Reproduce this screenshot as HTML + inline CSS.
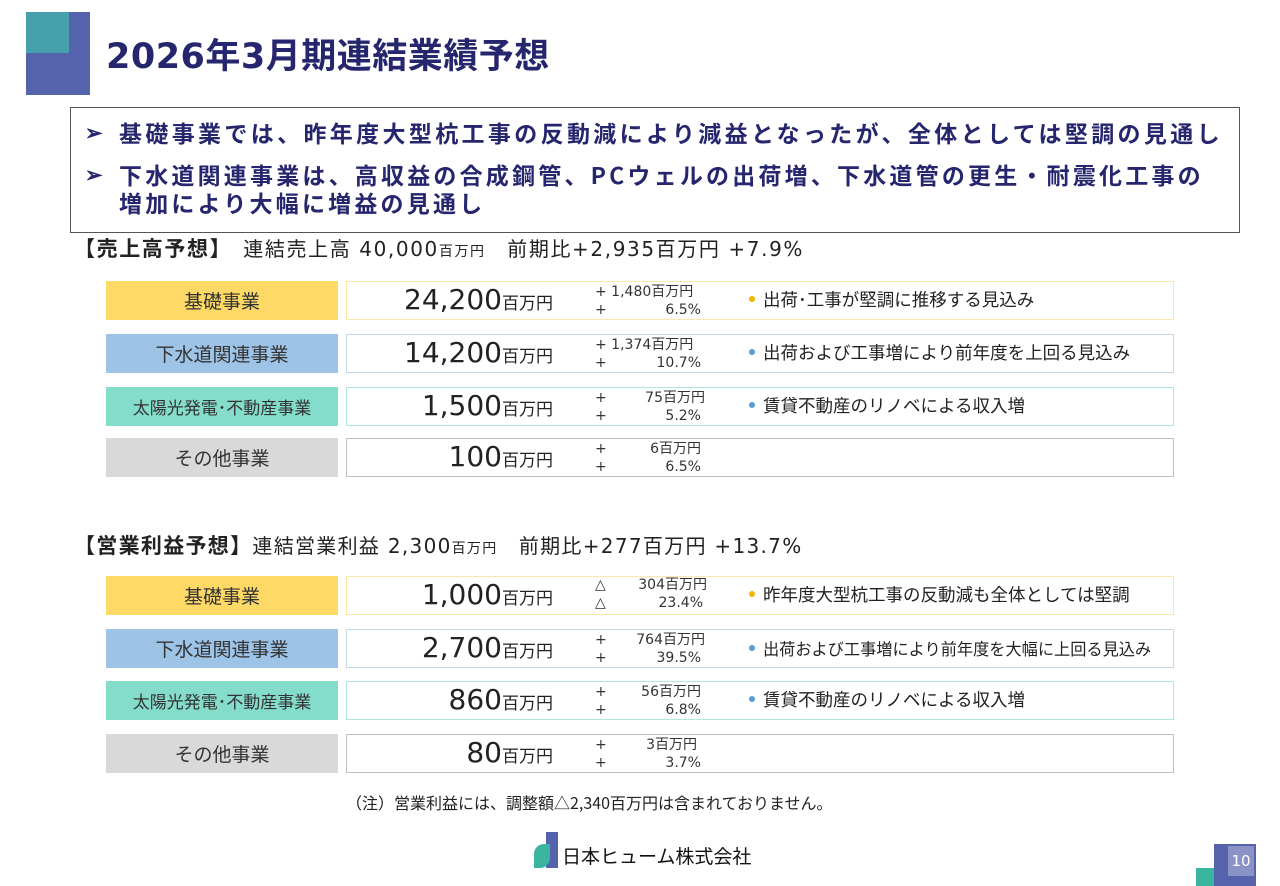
<!DOCTYPE html>
<html><head><meta charset="utf-8">
<style>
body{margin:0;width:1280px;height:886px;background:#fff;position:relative;overflow:hidden;font-family:"DejaVu Sans","Noto Sans CJK JP",sans-serif;color:#333;}
.a{position:absolute;}
.lab{position:absolute;left:106px;width:232px;height:39px;display:flex;align-items:center;justify-content:center;font-size:19px;color:#333;font-family:"Noto Sans CJK JP",sans-serif;}
.val{position:absolute;left:346px;width:826px;height:37px;background:#fff;}
.num{position:absolute;right:620px;top:3px;font-size:28px;line-height:30px;color:#222;white-space:nowrap;}
.num small{font-size:17px;font-family:"Noto Sans CJK JP",sans-serif;}
.ch{position:absolute;left:248px;width:110px;font-size:14px;line-height:18px;color:#333;white-space:nowrap;}
.ch span{position:absolute;left:0;}
.ch b{font-weight:normal;position:absolute;right:0;}
.note{position:absolute;left:402px;top:6px;font-size:17.5px;line-height:24px;white-space:nowrap;color:#222;font-family:"Noto Sans CJK JP",sans-serif;}
.note i{display:inline-block;width:6px;height:6px;border-radius:3px;margin-right:8px;vertical-align:4px;}
</style></head><body>
<div class="a" style="left:26px;top:12px;width:64px;height:83px;background:#5563ad;"></div>
<div class="a" style="left:26px;top:12px;width:43px;height:41px;background:#47a1ad;"></div>
<div class="a" style="left:106px;top:34px;font-size:35px;font-weight:bold;color:#26266e;line-height:46px;letter-spacing:0.5px;white-space:nowrap;">2026年3月期連結業績予想</div>

<div class="a" style="left:70px;top:107px;width:1168px;height:124px;border:1px solid #555;color:#26266e;font-weight:bold;font-size:23px;line-height:28px;font-family:'Noto Sans CJK JP',sans-serif;">
<div class="a" style="left:14px;top:10px;font-size:21px;">➢</div><div class="a" style="left:48px;top:10px;white-space:nowrap;letter-spacing:3.35px;">基礎事業では、昨年度大型杭工事の反動減により減益となったが、全体としては堅調の見通し</div>
<div class="a" style="left:14px;top:52px;font-size:21px;">➢</div><div class="a" style="left:48px;top:52px;white-space:nowrap;letter-spacing:3.2px;">下水道関連事業は、高収益の合成鋼管、PCウェルの出荷増、下水道管の更生・耐震化工事の<br>増加により大幅に増益の見通し</div>
</div>

<div class="a" style="left:74px;top:234px;font-size:20px;line-height:28px;white-space:nowrap;color:#222;letter-spacing:1.6px;"><b style="font-size:21px;font-family:'Noto Sans CJK JP'">【売上高予想】</b>　連結売上高 40,000<small style="font-size:14px">百万円</small>　前期比+2,935百万円 +7.9%</div>

<div class="lab" style="top:281px;background:#ffd966;">基礎事業</div>
<div class="val" style="top:281px;border:1px solid #ffe7a6;"><div class="num">24,200<small>百万円</small></div><div class="ch" style="top:1px">+ 1,480百万円<br><span>+</span><b style="right:4px">6.5%</b></div><div class="note"><i style="background:#f2b400"></i>出荷･工事が堅調に推移する見込み</div></div>
<div class="lab" style="top:334px;background:#9dc3e6;">下水道関連事業</div>
<div class="val" style="top:334px;border:1px solid #c4d8ea;"><div class="num">14,200<small>百万円</small></div><div class="ch" style="top:1px">+ 1,374百万円<br><span>+</span><b style="right:4px">10.7%</b></div><div class="note"><i style="background:#5b9bd5"></i>出荷および工事増により前年度を上回る見込み</div></div>
<div class="lab" style="top:387px;background:#84dccb;font-size:17px;">太陽光発電･不動産事業</div>
<div class="val" style="top:387px;border:1px solid #b3e6dc;"><div class="num">1,500<small>百万円</small></div><div class="ch" style="top:1px"><span>+</span><b>75百万円</b><br><span>+</span><b style="right:4px">5.2%</b></div><div class="note"><i style="background:#5b9bd5"></i>賃貸不動産のリノベによる収入増</div></div>
<div class="lab" style="top:438px;background:#d9d9d9;">その他事業</div>
<div class="val" style="top:438px;border:1px solid #bfbfbf;"><div class="num">100<small>百万円</small></div><div class="ch" style="top:1px"><span>+</span><b style="right:4px">6百万円</b><br><span>+</span><b style="right:4px">6.5%</b></div></div>

<div class="a" style="left:74px;top:531px;font-size:20px;line-height:28px;white-space:nowrap;color:#222;letter-spacing:1.3px;"><b style="font-size:21px;font-family:'Noto Sans CJK JP'">【営業利益予想】</b>連結営業利益 2,300<small style="font-size:14px">百万円</small>　前期比+277百万円 +13.7%</div>

<div class="lab" style="top:576px;background:#ffd966;">基礎事業</div>
<div class="val" style="top:576px;border:1px solid #ffe7a6;"><div class="num">1,000<small>百万円</small></div><div class="ch" style="top:-1px;width:112px"><span>△</span><b>304百万円</b><br><span>△</span><b style="right:4px">23.4%</b></div><div class="note"><i style="background:#f2b400"></i>昨年度大型杭工事の反動減も全体としては堅調</div></div>
<div class="lab" style="top:629px;background:#9dc3e6;">下水道関連事業</div>
<div class="val" style="top:629px;border:1px solid #c4d8ea;"><div class="num">2,700<small>百万円</small></div><div class="ch" style="top:1px;width:110px"><span>+</span><b>764百万円</b><br><span>+</span><b style="right:4px">39.5%</b></div><div class="note" style="font-size:16.2px"><i style="background:#5b9bd5"></i>出荷および工事増により前年度を大幅に上回る見込み</div></div>
<div class="lab" style="top:681px;background:#84dccb;font-size:17px;">太陽光発電･不動産事業</div>
<div class="val" style="top:681px;border:1px solid #b3e6dc;"><div class="num">860<small>百万円</small></div><div class="ch" style="top:1px;width:106px"><span>+</span><b>56百万円</b><br><span>+</span><b>6.8%</b></div><div class="note"><i style="background:#5b9bd5"></i>賃貸不動産のリノベによる収入増</div></div>
<div class="lab" style="top:734px;background:#d9d9d9;">その他事業</div>
<div class="val" style="top:734px;border:1px solid #bfbfbf;"><div class="num">80<small>百万円</small></div><div class="ch" style="top:1px;width:106px"><span>+</span><b style="right:4px">3百万円</b><br><span>+</span><b>3.7%</b></div></div>

<div class="a" style="left:346px;top:790px;font-size:16px;line-height:24px;color:#222;white-space:nowrap;font-family:'Noto Sans CJK JP',sans-serif;">（注）営業利益には、調整額△2,340百万円は含まれておりません。</div>

<div class="a" style="left:534px;top:832px;width:230px;height:36px;">
<div class="a" style="left:12px;top:0;width:12px;height:36px;background:#5563ad;"></div>
<div class="a" style="left:0;top:12px;width:16px;height:24px;background:#3ab5a0;border-radius:10px 0 10px 0;"></div>
<div class="a" style="left:28px;top:12px;font-size:19px;line-height:24px;color:#111;white-space:nowrap;font-family:'Noto Sans CJK JP',sans-serif;">日本ヒューム株式会社</div>
</div>
<div class="a" style="left:1196px;top:868px;width:18px;height:18px;background:#3ab5a0;"></div>
<div class="a" style="left:1214px;top:844px;width:42px;height:42px;background:#5563ad;"></div>
<div class="a" style="left:1228px;top:846px;width:26px;height:30px;background:#8b93c6;color:#fff;font-size:15px;line-height:30px;text-align:center;">10</div>
</body></html>
